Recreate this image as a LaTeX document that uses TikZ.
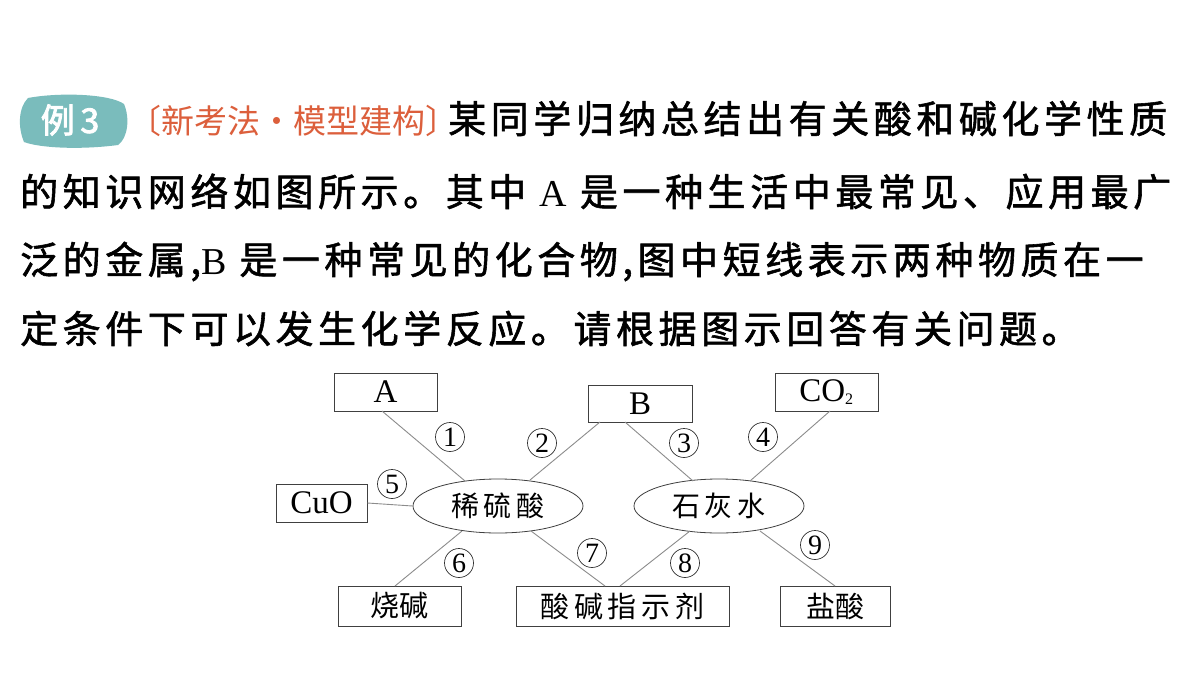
\documentclass[tikz,border=0pt]{standalone}
\usepackage{fontspec}
\usetikzlibrary{shapes.geometric}
\setmainfont{Liberation Serif}
\newfontfamily\cjk{Noto Sans CJK SC}
\newfontfamily\cjkb{Noto Sans CJK SC}[FakeBold=1.5,LetterSpace=12]
\newfontfamily\cjkh{Noto Sans CJK SC}[FakeBold=2.5]
\definecolor{badgec}{RGB}{122,188,188}
\definecolor{tagc}{RGB}{220,95,60}
\begin{document}
\begin{tikzpicture}[x=1pt,y=-1pt,
  box/.style={draw=black!75,line width=0.8pt,inner sep=0pt},
  lat/.style={font=\fontsize{33}{33}\selectfont},
  cj/.style={font=\cjk\fontsize{29}{29}\selectfont},
  ell/.style={draw=black!75,line width=0.8pt,ellipse,minimum width=170pt,minimum height=54pt,font=\cjk\fontsize{28}{28}\selectfont},
  lk/.style={draw=black!45,line width=0.9pt},
  num/.style={circle,draw=black!80,line width=0.7pt,inner sep=0pt,minimum size=29pt,font=\fontsize{28}{28}\selectfont},
  tx/.style={anchor=base west,inner sep=0pt,font=\cjkb\fontsize{38}{38}\selectfont}]
\useasboundingbox (0,0) rectangle (1200,675);
\fill[white] (0,0) rectangle (1200,675);
% header
\fill[badgec] (28,98) .. controls (60,92) and (110,94) .. (124,104) .. controls (130,118) and (128,138) .. (118,145) .. controls (80,150) and (40,148) .. (24,142) .. controls (18,128) and (18,108) .. (28,98) -- cycle;
\node[anchor=center,text=white,font=\cjkh\fontsize{34}{34}\selectfont] (badge) at (70,120) {例\,3};
\node[anchor=base west,inner sep=0pt,text=tagc,font=\cjk\fontsize{33}{33}\selectfont] (tag) at (128,133) {〔新考法·模型建构〕};
\node[tx] (l1) at (448,133) {某同学归纳总结出有关酸和碱化学性质};
\node[tx] (l2) at (20,206) {的知识网络如图所示。其中 {\rmfamily A} 是一种生活中最常见、应用最广};
\node[tx] (l3) at (20,274) {泛的金属,{\rmfamily B} 是一种常见的化合物,图中短线表示两种物质在一};
\node[tx] (l4) at (20,343) {定条件下可以发生化学反应。请根据图示回答有关问题。};
% diagram
\node[box,lat,minimum width=103pt,minimum height=38pt] (A) at (385.5,392) {A};
\node[box,lat,minimum width=104pt,minimum height=37pt] (B) at (640,403.5) {B};
\node[box,lat,minimum width=103pt,minimum height=38pt] (C) at (826.5,392) {CO\textsubscript{\fontsize{16}{16}\selectfont 2}};
\node[box,lat,minimum width=91pt,minimum height=38pt] (Cu) at (321.5,503) {CuO};
\node[box,cj,minimum width=123pt,minimum height=40pt] (S) at (399.5,606) {烧碱};
\node[box,cj,minimum width=213pt,minimum height=40pt] (I) at (622.5,606) {酸\,碱\,指\,示\,剂};
\node[box,cj,minimum width=110pt,minimum height=40pt] (H) at (835,606) {盐酸};
\node[ell] (E1) at (498,506) {稀\,硫\,酸};
\node[ell] (E2) at (719,506) {石\,灰\,水};
\coordinate (a1) at (382,411); \coordinate (e1a) at (465,481);
\draw[lk] (a1) -- (e1a);
\coordinate (b1) at (600,422); \coordinate (e1b) at (530,480);
\draw[lk] (b1) -- (e1b);
\coordinate (b2) at (625,422); \coordinate (e2b) at (693,481);
\draw[lk] (b2) -- (e2b);
\coordinate (c1) at (830,411); \coordinate (e2c) at (750,481);
\draw[lk] (c1) -- (e2c);
\draw[lk] (Cu.east) -- (E1.west);
\coordinate (e1s) at (462,531); \coordinate (s1) at (395,586);
\draw[lk] (e1s) -- (s1);
\coordinate (e1i) at (531,531); \coordinate (i1) at (605,586);
\draw[lk] (e1i) -- (i1);
\coordinate (e2i) at (690,531); \coordinate (i2) at (620,586);
\draw[lk] (e2i) -- (i2);
\coordinate (e2h) at (760,531); \coordinate (h1) at (835,586);
\draw[lk] (e2h) -- (h1);
\node[num] (n1) at (450,437) {1};
\node[num] (n2) at (542,443) {2};
\node[num] (n3) at (684,443) {3};
\node[num] (n4) at (763,437) {4};
\node[num] (n5) at (392,484) {5};
\node[num] (n6) at (459,563) {6};
\node[num] (n7) at (592,553) {7};
\node[num] (n8) at (685,563) {8};
\node[num] (n9) at (815,545) {9};
\end{tikzpicture}
\end{document}
